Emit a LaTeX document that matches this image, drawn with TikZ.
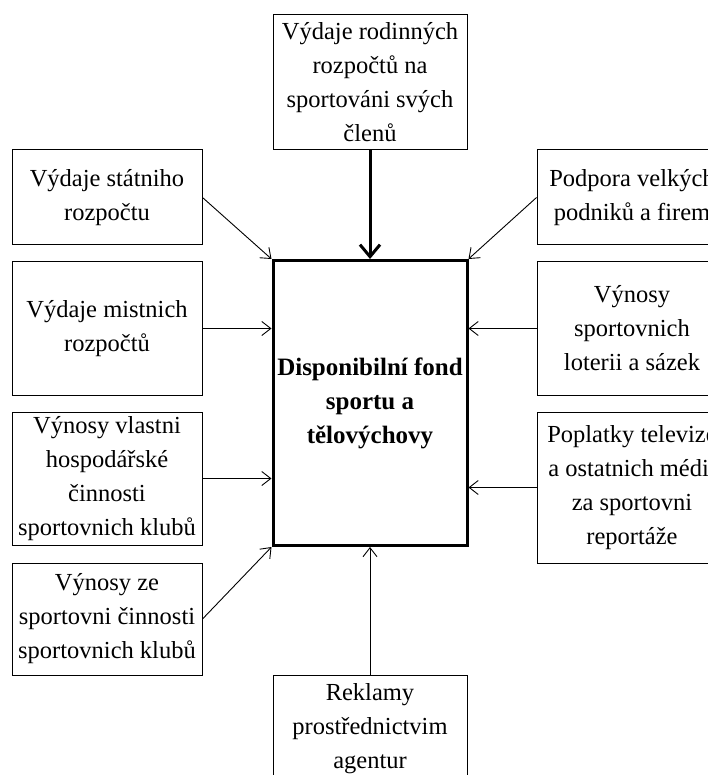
\documentclass[tikz,border=0pt]{standalone}
\usepackage{fontspec}
\setmainfont{Liberation Serif}
\usetikzlibrary{arrows.meta}

\tikzset{
  srcbox/.style={draw, line width=1pt, align=center, inner sep=1pt, font=\fontsize{24.5}{34}\selectfont},
  flow/.style={line width=0.9pt, -{Straight Barb[length=9pt, width=14pt, line width=0.9pt]}},
}

\begin{document}
\begin{tikzpicture}[x=1pt, y=-1pt]
\useasboundingbox (0,0) rectangle (707,775);

\node (fund) at (370,403) [draw, line width=3pt, minimum width=194pt, minimum height=285pt, align=center, inner sep=1pt, font=\fontsize{25}{34}\selectfont\bfseries] {Disponibilní fond\\sportu a\\tělovýchovy};

\node (family) at (370,82.5) [srcbox, minimum width=194pt, minimum height=135pt] {Výdaje rodinných\\rozpočtů na\\sportováni svých\\členů};

\node (state) at (107,197.5) [srcbox, minimum width=190pt, minimum height=95pt] {Výdaje státniho\\rozpočtu};
\node (local) at (107,328.5) [srcbox, minimum width=190pt, minimum height=133pt] {Výdaje mistnich\\rozpočtů};
\node (business) at (107,478.5) [srcbox, minimum width=190pt, minimum height=133pt] {Výnosy vlastni\\hospodářské\\činnosti\\sportovnich klubů};
\node (clubs) at (107,619) [srcbox, minimum width=190pt, minimum height=112pt] {Výnosy ze\\sportovni činnosti\\sportovnich klubů};

\node (firms) at (632,197.5) [srcbox, minimum width=190pt, minimum height=95pt] {Podpora velkých\\podniků a firem};
\node (lottery) at (632,328.5) [srcbox, minimum width=190pt, minimum height=133pt] {Výnosy\\sportovnich\\loterii a sázek};
\node (media) at (632,487.5) [srcbox, minimum width=190pt, minimum height=151pt] {Poplatky televize\\a ostatnich médii\\za sportovni\\reportáže};

\node (ads) at (370,729) [srcbox, minimum width=194pt, minimum height=108pt] {Reklamy\\prostřednictvim\\agentur};

\draw [line width=3pt, -{Straight Barb[length=12pt, width=20pt, line width=3pt]}] (family.south) -- (fund.north);
\draw [flow] (state.east) -- (fund.north west);
\draw [flow] (local.east) -- (local.east -| fund.west);
\draw [flow] (business.east) -- (business.east -| fund.west);
\draw [flow] (clubs.east) -- (fund.south west);
\draw [flow] (firms.west) -- (fund.north east);
\draw [flow] (lottery.west) -- (lottery.west -| fund.east);
\draw [flow] (media.west) -- (media.west -| fund.east);
\draw [flow] (ads.north) -- (fund.south);

\end{tikzpicture}
\end{document}
